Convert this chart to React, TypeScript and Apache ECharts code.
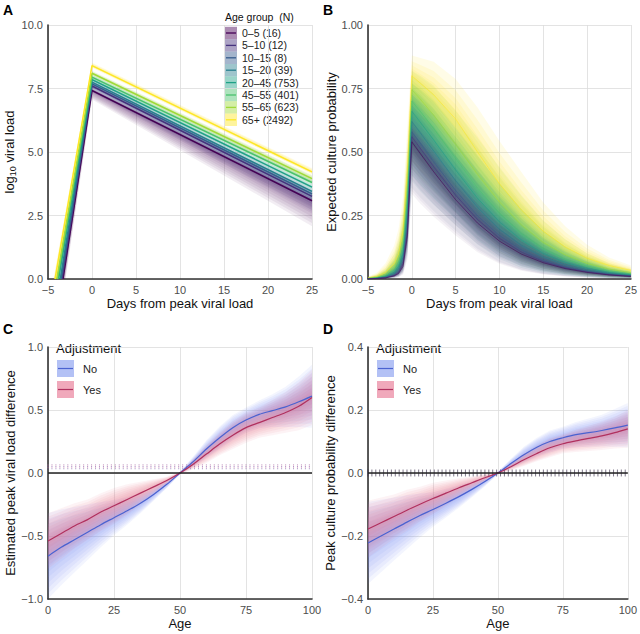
import React, { useEffect, useRef } from 'react';
import * as echarts from 'echarts';

const FONT = '"Liberation Sans", Arial, Helvetica, sans-serif';
const VIRIDIS = ['#440154', '#46337E', '#365C8D', '#277F8E', '#1FA187', '#4AC16D', '#9FDA3A', '#FDE725'];
const ageGroups = ['0–5 (16)', '5–10 (12)', '10–15 (8)', '15–20 (39)', '20–45 (753)', '45–55 (401)', '55–65 (623)', '65+ (2492)'];

// ---------- Panel A: log10 viral load trajectories ----------
const aOnsetDay = [-3.3, -3.4, -3.5, -3.6, -3.8, -3.9, -4.0, -4.2];
const aPeakLoad = [7.42, 7.6, 7.68, 7.75, 7.85, 7.95, 8.1, 8.4];
const aDay25Load = [3.08, 3.25, 3.35, 3.45, 3.62, 3.8, 3.95, 4.22];
const aOnsetSpread = [0.3, 0.25, 0.2, 0.2, 0.15, 0.15, 0.15, 0.2];
const aPeakSpreadLo = [0.35, 0.25, 0.18, 0.14, 0.08, 0.1, 0.1, 0.08];
const aPeakSpreadHi = [0.08, 0.08, 0.08, 0.08, 0.08, 0.1, 0.1, 0.12];
const aEndSpreadLo = [1.0, 0.6, 0.3, 0.25, 0.1, 0.12, 0.15, 0.1];
const aEndSpreadHi = [0.12, 0.12, 0.12, 0.12, 0.1, 0.12, 0.15, 0.15];

// ---------- Panel B: expected culture probability ----------
const bDays = [-5, -4, -3, -2, -1.5, -1, -0.5, 0, 1, 2.5, 5, 7.5, 10, 12.5, 15, 17.5, 20, 22.5, 25];
const bProb = [
  [0.001, 0.002, 0.004, 0.012, 0.022, 0.05, 0.17, 0.54, 0.4925, 0.422, 0.312, 0.22, 0.149, 0.098, 0.064, 0.041, 0.026, 0.016, 0.01],
  [0.001, 0.002, 0.005, 0.014, 0.026, 0.06, 0.19, 0.56, 0.513, 0.442, 0.33, 0.234, 0.16, 0.106, 0.069, 0.044, 0.028, 0.017, 0.011],
  [0.001, 0.002, 0.006, 0.016, 0.03, 0.07, 0.21, 0.58, 0.533, 0.462, 0.348, 0.249, 0.171, 0.114, 0.074, 0.047, 0.03, 0.019, 0.012],
  [0.001, 0.003, 0.008, 0.02, 0.04, 0.085, 0.24, 0.62, 0.574, 0.504, 0.387, 0.282, 0.196, 0.132, 0.086, 0.056, 0.035, 0.022, 0.014],
  [0.002, 0.004, 0.01, 0.026, 0.05, 0.1, 0.28, 0.66, 0.616, 0.547, 0.429, 0.318, 0.225, 0.153, 0.101, 0.065, 0.042, 0.026, 0.017],
  [0.002, 0.005, 0.013, 0.034, 0.062, 0.125, 0.32, 0.7, 0.659, 0.592, 0.474, 0.359, 0.259, 0.178, 0.119, 0.077, 0.05, 0.031, 0.02],
  [0.003, 0.007, 0.017, 0.045, 0.08, 0.155, 0.37, 0.745, 0.707, 0.645, 0.53, 0.412, 0.304, 0.213, 0.144, 0.095, 0.061, 0.039, 0.025],
  [0.004, 0.01, 0.025, 0.06, 0.1, 0.19, 0.43, 0.8, 0.77, 0.725, 0.63, 0.5, 0.375, 0.272, 0.188, 0.126, 0.082, 0.053, 0.034],
];
const bLowFactor = [0.3, 0.3, 0.3, 0.3, 0.3, 0.35, 0.45, 0.62, 0.6, 0.58, 0.55, 0.48, 0.4, 0.33, 0.28, 0.25, 0.22, 0.2, 0.2];
const bHighFactor = [2.5, 2.5, 2.5, 2.2, 2.0, 1.7, 1.4, 1.1, 1.13, 1.18, 1.25, 1.35, 1.45, 1.55, 1.6, 1.65, 1.65, 1.6, 1.55];
const bBandAlpha = [0.05, 0.055, 0.065, 0.085, 0.1, 0.11, 0.11, 0.11];

// ---------- Panels C & D: age effects ----------
const ages = [0, 5, 10, 15, 20, 25, 30, 35, 40, 45, 50, 55, 60, 65, 70, 75, 80, 85, 90, 95, 100];
const cNo = [-0.66, -0.59, -0.53, -0.47, -0.41, -0.355, -0.3, -0.24, -0.17, -0.09, 0, 0.09, 0.19, 0.28, 0.36, 0.42, 0.465, 0.495, 0.525, 0.565, 0.61];
const cYes = [-0.54, -0.48, -0.42, -0.37, -0.31, -0.26, -0.21, -0.16, -0.11, -0.06, 0, 0.07, 0.15, 0.23, 0.3, 0.36, 0.4, 0.44, 0.48, 0.53, 0.6];
const cNoHalf = [0.34, 0.3, 0.26, 0.22, 0.18, 0.14, 0.11, 0.08, 0.05, 0.03, 0.01, 0.04, 0.07, 0.09, 0.1, 0.1, 0.11, 0.13, 0.16, 0.2, 0.25];
const cYesHalf = [0.22, 0.2, 0.18, 0.16, 0.15, 0.14, 0.12, 0.09, 0.06, 0.03, 0.01, 0.04, 0.07, 0.09, 0.11, 0.12, 0.12, 0.14, 0.16, 0.19, 0.22];
const dNo = [-0.222, -0.2, -0.178, -0.156, -0.135, -0.116, -0.096, -0.075, -0.052, -0.027, 0, 0.03, 0.058, 0.082, 0.1, 0.112, 0.122, 0.128, 0.135, 0.143, 0.152];
const dYes = [-0.178, -0.158, -0.138, -0.118, -0.099, -0.081, -0.064, -0.047, -0.031, -0.015, 0, 0.02, 0.042, 0.062, 0.08, 0.093, 0.102, 0.11, 0.118, 0.128, 0.14];
const dNoHalf = [0.13, 0.115, 0.1, 0.085, 0.07, 0.055, 0.045, 0.035, 0.025, 0.015, 0.004, 0.015, 0.025, 0.03, 0.035, 0.035, 0.04, 0.045, 0.05, 0.06, 0.07];
const dYesHalf = [0.09, 0.08, 0.07, 0.065, 0.055, 0.05, 0.04, 0.03, 0.02, 0.012, 0.004, 0.012, 0.02, 0.025, 0.03, 0.03, 0.035, 0.04, 0.045, 0.05, 0.06];
const rugAges = [0, 1.5, 3, 4.5, 6, 7.5, 9, 10.5, 12, 13.5, 15, 16.5, 18, 19.5, 21, 22.5, 24, 25.5, 27, 28.5, 30, 31.5, 33, 34.5, 36, 37.5, 39, 40.5, 42, 43.5, 45, 46.5, 48, 49.5, 51, 52.5, 54, 55.5, 57, 58.5, 60, 61.5, 63, 64.5, 66, 67.5, 69, 70.5, 72, 73.5, 75, 76.5, 78, 79.5, 81, 82.5, 84, 85.5, 87, 88.5, 90, 91.5, 93, 94.5, 96, 97.5, 99];
const adjustLabels = ['No', 'Yes'];

const A_TICKS_Y = { min: 0, max: 10, interval: 2.5 };
const B_TICKS_Y = { min: 0, max: 1, interval: 0.25 };
const C_TICKS_Y = { min: -1, max: 1, interval: 0.5 };
const D_TICKS_Y = { min: -0.4, max: 0.4, interval: 0.2 };
const DAY_TICKS = { min: -5, max: 25, interval: 5 };
const AGE_TICKS = { min: 0, max: 100, interval: 25 };

const NO_LINE = '#4a62d0';
const NO_BAND = '#7090ee';
const YES_LINE = '#b0305e';
const YES_BAND = '#e8708f';

function rgba(hex: string, a: number) {
  const n = parseInt(hex.slice(1), 16);
  return `rgba(${(n >> 16) & 255},${(n >> 8) & 255},${n & 255},${a})`;
}
const minus = (s: string) => s.replace('-', '\u2212');
const fmt = (d: number) => (v: number) => minus((Math.abs(v) < 1e-9 ? 0 : v).toFixed(d));

function poly(idx: number, pts: number[][], fill: string) {
  return {
    type: 'custom',
    xAxisIndex: idx,
    yAxisIndex: idx,
    silent: true,
    data: [pts[0]],
    renderItem: (_p: any, api: any) => ({
      type: 'polygon',
      shape: { points: pts.map((p) => api.coord(p)) },
      style: { fill, stroke: 'none' },
    }),
  };
}

function rug(idx: number, xs: number[], y0: number, y1: number, color: string, width: number, dash: number[] | null, offset = 0) {
  return {
    type: 'custom',
    xAxisIndex: idx,
    yAxisIndex: idx,
    silent: true,
    data: xs.map((a) => [a, y0]),
    renderItem: (_p: any, api: any) => {
      const a = api.value(0);
      const p0 = api.coord([a, y0]);
      const p1 = api.coord([a, y1]);
      return {
        type: 'line',
        shape: { x1: p0[0], y1: p0[1], x2: p1[0], y2: p1[1] },
        style: { stroke: color, lineWidth: width, lineDash: dash || undefined, lineDashOffset: offset },
      };
    },
  };
}

function lineSeries(idx: number, data: number[][], color: string, width: number, smooth: number | boolean = false, extra: any = {}) {
  return {
    type: 'line',
    xAxisIndex: idx,
    yAxisIndex: idx,
    data,
    showSymbol: false,
    symbol: 'none',
    smooth,
    silent: true,
    lineStyle: { color, width },
    ...extra,
  };
}

const LEVELS = [1, 0.875, 0.75, 0.625, 0.5, 0.375, 0.25, 0.125];
const B_LEVELS = [1, 0.72, 0.52, 0.36, 0.23, 0.12];

function buildOption() {
  const series: any[] = [];

  // Panel A
  for (let g = 0; g < 8; g++) {
    for (const f of LEVELS) {
      const pts = [
        [aOnsetDay[g] - f * aOnsetSpread[g], 0],
        [0, aPeakLoad[g] + f * aPeakSpreadHi[g]],
        [25, aDay25Load[g] + f * aEndSpreadHi[g]],
        [25, aDay25Load[g] - f * aEndSpreadLo[g]],
        [0, aPeakLoad[g] - f * aPeakSpreadLo[g]],
        [aOnsetDay[g] + f * aOnsetSpread[g], 0],
      ];
      series.push(poly(0, pts, rgba(VIRIDIS[g], 0.07)));
    }
    series.push(
      lineSeries(0, [[aOnsetDay[g], 0], [0, aPeakLoad[g]], [25, aDay25Load[g]]], VIRIDIS[g], 1.5)
    );
  }

  // Panel B (older groups drawn first, youngest on top)
  for (let g = 7; g >= 0; g--) {
    const v = bProb[g];
    for (const f of B_LEVELS) {
      const up = bDays.map((x, i) => {
        const hi = Math.min(1, v[i] * bHighFactor[i]);
        return [x, v[i] + f * (hi - v[i])];
      });
      const dn = bDays.map((x, i) => {
        const lo = v[i] * bLowFactor[i];
        return [x, v[i] - f * (v[i] - lo)];
      });
      series.push(poly(1, up.concat(dn.reverse()), rgba(VIRIDIS[g], bBandAlpha[g])));
    }
  }
  for (let g = 7; g >= 0; g--) {
    const v = bProb[g];
    series.push(lineSeries(1, bDays.map((x, i) => [x, v[i]]), rgba(VIRIDIS[g], 0.6), 0.9));
  }

  // Panels C & D
  const addAdj = (idx: number, center: number[], half: number[], band: string, line: string, extra: any = {}) => {
    for (const f of LEVELS) {
      const up = ages.map((x, i) => [x, center[i] + f * half[i]]);
      const dn = ages.map((x, i) => [x, center[i] - f * half[i]]);
      series.push(poly(idx, up.concat(dn.reverse()), rgba(band, 0.085)));
    }
    series.push(lineSeries(idx, ages.map((x, i) => [x, center[i]]), line, 1.2, 0.3, extra));
  };
  const zeroLine = {
    markLine: {
      silent: true,
      symbol: 'none',
      label: { show: false },
      lineStyle: { color: '#222', width: 1.5, type: 'solid' },
      data: [{ yAxis: 0 }],
    },
  };
  addAdj(2, cNo, cNoHalf, NO_BAND, NO_LINE);
  addAdj(2, cYes, cYesHalf, YES_BAND, YES_LINE, zeroLine);
  series.push(rug(2, rugAges, 0.03, 0.07, 'rgba(120,90,170,0.75)', 0.9, [1, 1.3], 0));
  series.push(rug(2, rugAges, 0.03, 0.07, 'rgba(210,120,160,0.6)', 0.9, [1, 1.3], 1.15));
  addAdj(3, dNo, dNoHalf, NO_BAND, NO_LINE);
  addAdj(3, dYes, dYesHalf, YES_BAND, YES_LINE, zeroLine);
  series.push(rug(3, rugAges, -0.011, 0.011, 'rgba(50,40,70,0.8)', 0.8, null));

  const axisBase = {
    type: 'value',
    nameLocation: 'middle',
    axisLine: { show: true, onZero: false, lineStyle: { color: '#333', width: 1.6 } },
    axisTick: { show: false },
    splitLine: { show: true, lineStyle: { color: '#dcdcdc', width: 0.8 } },
    axisLabel: { color: '#4d4d4d', fontSize: 11, fontFamily: FONT, margin: 5 },
    nameTextStyle: { color: '#111', fontSize: 13, fontFamily: FONT },
  };

  const xAxes = [0, 1, 2, 3].map((i) => ({
    ...axisBase,
    gridIndex: i,
    ...(i < 2 ? DAY_TICKS : AGE_TICKS),
    name: i < 2 ? 'Days from peak viral load' : 'Age',
    nameGap: 18,
    axisLabel: { ...axisBase.axisLabel, formatter: fmt(0) },
  }));

  const yAxes = [
    {
      ...axisBase,
      gridIndex: 0,
      ...A_TICKS_Y,
      name: '{a|log}{b|10}{a| viral load}',
      nameGap: 30,
      nameTextStyle: {
        color: '#111',
        fontFamily: FONT,
        rich: {
          a: { fontSize: 13, fontFamily: FONT, color: '#111', lineHeight: 16 },
          b: { fontSize: 9, fontFamily: FONT, color: '#111', lineHeight: 10, verticalAlign: 'bottom' },
        },
      },
      axisLabel: { ...axisBase.axisLabel, formatter: fmt(1) },
    },
    {
      ...axisBase,
      gridIndex: 1,
      ...B_TICKS_Y,
      name: 'Expected culture probability',
      nameGap: 29,
      axisLabel: { ...axisBase.axisLabel, formatter: fmt(2) },
    },
    {
      ...axisBase,
      gridIndex: 2,
      ...C_TICKS_Y,
      name: 'Estimated peak viral load difference',
      nameGap: 31,
      axisLabel: { ...axisBase.axisLabel, formatter: fmt(1) },
    },
    {
      ...axisBase,
      gridIndex: 3,
      ...D_TICKS_Y,
      name: 'Peak culture probability difference',
      nameGap: 27,
      axisLabel: { ...axisBase.axisLabel, formatter: fmt(1) },
    },
  ];

  const graphic: any[] = [];
  const letter = (t: string, x: number, y: number) =>
    graphic.push({
      type: 'text',
      x,
      y,
      style: { text: t, fontSize: 14, fontWeight: 'bold', fontFamily: FONT, fill: '#000', verticalAlign: 'middle' },
    });
  letter('A', 3, 10);
  letter('B', 323, 10);
  letter('C', 3, 329);
  letter('D', 323, 329);

  // Age group legend (panel A)
  graphic.push({
    type: 'text',
    x: 225,
    y: 17,
    style: { text: 'Age group\u00a0\u00a0(N)', fontSize: 10.5, fontFamily: FONT, fill: '#111', verticalAlign: 'middle' },
  });
  ageGroups.forEach((lab, i) => {
    const cy = 33 + i * 12.4;
    graphic.push({ type: 'rect', shape: { x: 225, y: cy - 6.2, width: 12, height: 12.4 }, style: { fill: rgba(VIRIDIS[i], 0.45) } });
    graphic.push({ type: 'line', shape: { x1: 226, y1: cy, x2: 236, y2: cy }, style: { stroke: VIRIDIS[i], lineWidth: 1.3 } });
    graphic.push({
      type: 'text',
      x: 242,
      y: cy,
      style: { text: lab, fontSize: 10.5, fontFamily: FONT, fill: '#222', verticalAlign: 'middle' },
    });
  });

  // Adjustment legends (panels C and D)
  [0, 320].forEach((dx) => {
    graphic.push({
      type: 'text',
      x: 56 + dx,
      y: 348,
      style: { text: 'Adjustment', fontSize: 13, fontFamily: FONT, fill: '#111', verticalAlign: 'middle' },
    });
    const keys = [
      { box: '#b3c1f5', line: NO_LINE },
      { box: '#f0a9bb', line: YES_LINE },
    ];
    keys.forEach((k, i) => {
      const top = 360 + i * 21;
      graphic.push({ type: 'rect', shape: { x: 57 + dx, y: top, width: 17, height: 17 }, style: { fill: k.box } });
      graphic.push({ type: 'line', shape: { x1: 58 + dx, y1: top + 8.5, x2: 73 + dx, y2: top + 8.5 }, style: { stroke: k.line, lineWidth: 1.2 } });
      graphic.push({
        type: 'text',
        x: 83 + dx,
        y: top + 9,
        style: { text: adjustLabels[i], fontSize: 11, fontFamily: FONT, fill: '#222', verticalAlign: 'middle' },
      });
    });
  });

  return {
    animation: false,
    backgroundColor: '#fff',
    textStyle: { fontFamily: FONT },
    grid: [
      { left: 48, top: 25, width: 264, height: 254 },
      { left: 368, top: 25, width: 264, height: 254 },
      { left: 48, top: 347, width: 264, height: 252 },
      { left: 368, top: 347, width: 264, height: 252 },
    ],
    xAxis: xAxes,
    yAxis: yAxes,
    series,
    graphic,
  };
}

export default function App() {
  const ref = useRef<HTMLDivElement>(null);
  useEffect(() => {
    document.body.style.margin = '0';
    const chart = echarts.init(ref.current as HTMLDivElement, null, { renderer: 'svg' });
    chart.setOption(buildOption() as any);
    return () => chart.dispose();
  }, []);
  return <div ref={ref} style={{ width: 640, height: 634 }} />;
}
